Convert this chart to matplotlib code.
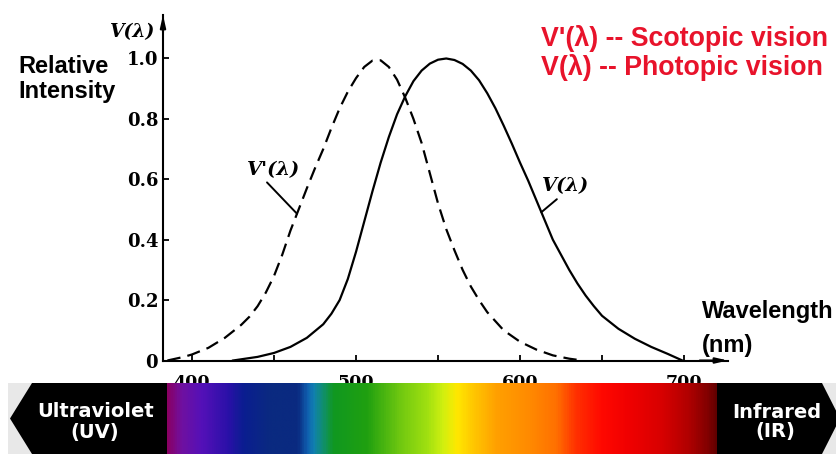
import matplotlib
matplotlib.use("Agg")
import matplotlib.pyplot as plt
import numpy as np
from matplotlib.colors import LinearSegmentedColormap
from matplotlib.patches import Polygon, Rectangle

# Scotopic (dashed) and photopic (solid) curves
wl_scotopic = [385, 390, 395, 400, 410, 420, 430, 435, 440, 445, 450, 455, 460,
               465, 470, 475, 480, 485, 490, 495, 500, 505, 510, 515, 520, 525,
               530, 535, 540, 545, 550, 555, 560, 565, 570, 575, 580, 590, 600,
               610, 620, 630, 638]
v_scotopic = [0, 0.006, 0.012, 0.02, 0.042, 0.075, 0.118, 0.145, 0.18, 0.225,
              0.28, 0.35, 0.43, 0.5, 0.57, 0.637, 0.70, 0.77, 0.835, 0.89,
              0.935, 0.972, 0.993, 0.994, 0.972, 0.93, 0.87, 0.80, 0.72, 0.62,
              0.52, 0.435, 0.365, 0.30, 0.245, 0.20, 0.16, 0.10, 0.062, 0.036,
              0.017, 0.006, 0]

wl_photopic = [425, 430, 440, 450, 460, 470, 480, 485, 490, 495, 500, 505, 510,
               515, 520, 525, 530, 535, 540, 545, 550, 555, 560, 565, 570, 575,
               580, 585, 590, 595, 600, 605, 610, 615, 620, 625, 630, 635, 640,
               645, 650, 660, 670, 680, 690, 699]
v_photopic = [0, 0.004, 0.012, 0.025, 0.045, 0.075, 0.12, 0.155, 0.20, 0.27,
              0.36, 0.46, 0.56, 0.655, 0.74, 0.815, 0.875, 0.925, 0.96, 0.983,
              0.996, 1.0, 0.995, 0.982, 0.96, 0.928, 0.885, 0.835, 0.778, 0.718,
              0.655, 0.595, 0.53, 0.465, 0.40, 0.35, 0.30, 0.255, 0.215, 0.18,
              0.148, 0.105, 0.072, 0.045, 0.022, 0]

y_ticks = [0, 0.2, 0.4, 0.6, 0.8, 1.0]
y_tick_labels = ["0", "0.2", "0.4", "0.6", "0.8", "1.0"]
x_ticks = [400, 450, 500, 550, 600, 650, 700]
x_tick_labels = ["400", "", "500", "", "600", "", "700"]

# colour stops of the spectrum strip (pixel x, colour)
spectrum_stops = [
    (166, "#8a0062"), (180, "#7010a0"), (200, "#5510b8"), (227, "#2a10a8"),
    (243, "#0a1e90"), (270, "#0a2a80"), (297, "#0a2a80"), (307, "#1060b0"),
    (313, "#1080b0"), (323, "#10906a"), (333, "#109820"), (367, "#20a010"),
    (380, "#40b010"), (400, "#70c810"), (427, "#a0e010"), (443, "#d0f010"),
    (457, "#ffe800"), (473, "#ffc800"), (497, "#ffa000"), (530, "#ff8a00"),
    (557, "#ff7000"), (577, "#ff3000"), (603, "#ff0800"), (630, "#f00000"),
    (663, "#d80000"), (690, "#b00000"), (710, "#800000"), (718, "#600000"),
]

W, H = 836, 454
SANS = "Liberation Sans"
SERIF = "DejaVu Serif"
RED = "#e8132b"


def px_box(x0, y0, x1, y1):
    return [x0 / W, 1 - y1 / H, (x1 - x0) / W, (y1 - y0) / H]


def fig_text(x, y, s, **kw):
    fig.text(x / W, 1 - y / H, s, **kw)


fig = plt.figure(figsize=(W / 100, H / 100), dpi=100)
fig.patch.set_facecolor("white")

# main chart
ax = fig.add_axes(px_box(163, 15, 728, 360.5))
ax.set_zorder(1)
ax.set_xlim(382.3, 726.8)
ax.set_ylim(0, 1.144)

ax.plot(wl_scotopic, v_scotopic, color="black", lw=1.6,
        linestyle=(0, (6, 3.2)), dash_capstyle="butt")
ax.plot(wl_photopic, v_photopic, color="black", lw=1.6,
        solid_joinstyle="round")

for side in ["top", "right"]:
    ax.spines[side].set_visible(False)
for side in ["left", "bottom"]:
    ax.spines[side].set_linewidth(1.5)

arrow = dict(arrowstyle="-|>,head_length=0.7,head_width=0.16", color="black",
             lw=1.5, shrinkA=0, shrinkB=0)
ax.annotate("", xy=(1, 0), xytext=(0.95, 0), xycoords="axes fraction",
            arrowprops=arrow, annotation_clip=False)
ax.annotate("", xy=(0, 1), xytext=(0, 0.95), xycoords="axes fraction",
            arrowprops=arrow, annotation_clip=False)

ax.set_yticks(y_ticks)
ax.set_yticklabels(y_tick_labels)
ax.set_xticks(x_ticks)
ax.set_xticklabels(x_tick_labels)
ax.tick_params(direction="in", length=4, width=1.3)
ax.tick_params(axis="y", pad=3.5, labelsize=13)
ax.tick_params(axis="x", pad=9.5, labelsize=12.5)
for lab in ax.get_xticklabels() + ax.get_yticklabels():
    lab.set_fontfamily(SERIF)
    lab.set_fontweight("bold")

# curve labels with leader lines
lab_kw = dict(fontfamily=SERIF, fontweight="bold", fontstyle="italic",
              fontsize=14, ha="center", va="center")
xs = 464
ax.annotate("V'(λ)", xy=(xs, np.interp(xs, wl_scotopic, v_scotopic)),
            xytext=(450, 0.632), textcoords="data",
            arrowprops=dict(arrowstyle="-", color="black", lw=1.4,
                            relpos=(0.3, 0), shrinkA=1, shrinkB=0),
            **lab_kw)
xp = 613
ax.annotate("V(λ)", xy=(xp, np.interp(xp, wl_photopic, v_photopic)),
            xytext=(628, 0.576), textcoords="data",
            arrowprops=dict(arrowstyle="-", color="black", lw=1.4,
                            relpos=(0.4, 0), shrinkA=1, shrinkB=0),
            **lab_kw)

# axis titles and legend text
fig_text(132.5, 32.5, "V(λ)", fontfamily=SERIF, fontweight="bold",
         fontstyle="italic", fontsize=13.5, ha="center", va="center")
sans_kw = dict(fontfamily=SANS, fontweight="bold", fontsize=17, va="baseline")
fig_text(18, 73, "Relative", **sans_kw)
fig_text(18, 98, "Intensity", **sans_kw)
fig_text(702, 318, "Wavelength", **sans_kw)
fig_text(702, 352, "(nm)", **sans_kw)
red_kw = dict(sans_kw, fontsize=19.3, color=RED)
fig_text(541, 46, "V'(λ) -- Scotopic vision", **red_kw)
fig_text(541, 75, "V(λ) -- Photopic vision", **red_kw)

# spectrum strip, drawn over the lower half of the x tick labels
ax2 = fig.add_axes(px_box(0, 383, W, H))
ax2.set_zorder(3)
ax2.axis("off")

x0, x1 = spectrum_stops[0][0], spectrum_stops[-1][0]
cmap = LinearSegmentedColormap.from_list(
    "spectrum", [((x - x0) / (x1 - x0), c) for x, c in spectrum_stops])
ax2.add_patch(Rectangle((8, 383), W - 8, 71, color="#e8e8e8", lw=0, zorder=0))
ax2.imshow(np.linspace(0, 1, 600)[None, :], cmap=cmap, aspect="auto",
           extent=[x0, x1, H, 383], interpolation="bilinear", zorder=1)
ax2.add_patch(Polygon([(32, 383), (x0 + 1, 383), (x0 + 1, H), (32, H),
                       (10, 418.5)], closed=True, color="black", lw=0, zorder=2))
ax2.add_patch(Polygon([(x1 - 1, 383), (822, 383), (840, 418.5), (822, H),
                       (x1 - 1, H)], closed=True, color="black", lw=0, zorder=2))
ax2.set_xlim(0, W)
ax2.set_ylim(H, 383)

band_kw = dict(fontfamily="DejaVu Sans", fontweight="bold", fontsize=14,
               color="white", ha="center", va="baseline", zorder=3)
ax2.text(95.5, 417, "Ultraviolet", **band_kw)
ax2.text(95, 438, "(UV)", **band_kw)
ax2.text(776.5, 418, "Infrared", **band_kw)
ax2.text(775, 436.5, "(IR)", **band_kw)

fig.savefig("out.png", dpi=100)
